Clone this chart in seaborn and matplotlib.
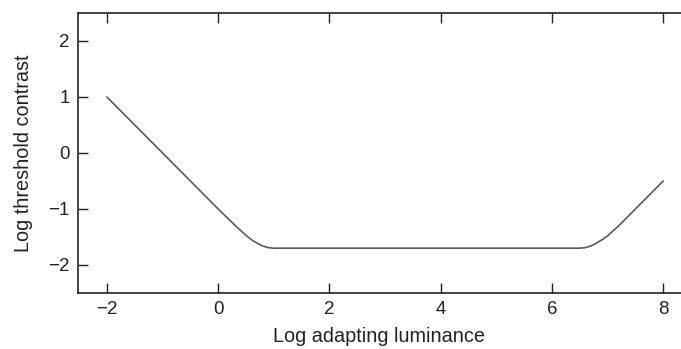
import matplotlib
matplotlib.use("Agg")
import matplotlib.pyplot as plt
import seaborn as sns
import pandas as pd

log_luminance = [-2.0, 0.0, 0.3, 0.5, 0.6, 0.7, 0.8, 0.9, 1.0,
                 6.5, 6.6, 6.7, 6.8, 6.9, 7.0, 7.2, 7.5, 8.0]
log_threshold = [1.0, -1.0, -1.29, -1.47, -1.55, -1.61, -1.66, -1.69, -1.70,
                 -1.70, -1.69, -1.66, -1.61, -1.55, -1.48, -1.30, -1.0, -0.5]

x_ticks = [-2, 0, 2, 4, 6, 8]
y_ticks = [-2, -1, 0, 1, 2]

sns.set_style("ticks")
plt.rcParams['font.family'] = ['Liberation Sans', 'DejaVu Sans']

df = pd.DataFrame({"x": log_luminance, "y": log_threshold})

fig = plt.figure(figsize=(6.81, 3.49), dpi=100)
ax = fig.add_axes([0.1145, 0.1605, 0.8855, 0.8023])
sns.lineplot(data=df, x="x", y="y", ax=ax, color="#5a5a5a", linewidth=1.2)

ax.set_xlim(-2.52, 8.32)
ax.set_ylim(-2.5, 2.5)
ax.set_xticks(x_ticks)
ax.set_yticks(y_ticks)
ax.tick_params(direction="in", length=7, width=1, labelsize=13.5, top=True,
               right=False, colors="#222222")
ax.tick_params(axis="x", pad=6)
ax.tick_params(axis="y", pad=6)
for s in ["left", "top", "bottom"]:
    ax.spines[s].set_linewidth(1.2)
    ax.spines[s].set_color("#222222")
ax.spines["right"].set_visible(False)
ax.set_xlabel("Log adapting luminance", fontsize=14.3, color="#222222", labelpad=6.5)
ax.set_ylabel("Log threshold contrast", fontsize=14.3, color="#222222", labelpad=11)

fig.savefig("out.png", dpi=100)
